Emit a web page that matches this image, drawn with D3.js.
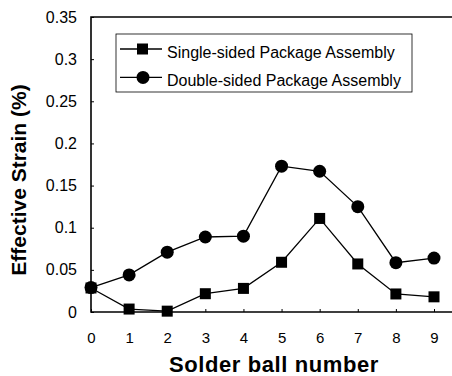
<!DOCTYPE html>
<html>
<head>
<meta charset="utf-8">
<script src="https://cdn.jsdelivr.net/npm/d3@7"></script>
<style>
  body { margin: 0; background: #fff; }
  text { font-family: "Liberation Sans", Arial, sans-serif; fill: #000; }
</style>
</head>
<body>
<svg id="chart" width="452" height="376"></svg>
<script>
const balls = [0, 1, 2, 3, 4, 5, 6, 7, 8, 9];
const singleSided = [0.0285, 0.0035, 0.001, 0.0217, 0.028, 0.059, 0.111, 0.057, 0.0214, 0.018];
const doubleSided = [0.029, 0.044, 0.071, 0.089, 0.09, 0.173, 0.167, 0.125, 0.0585, 0.064];
const yTicks = [0, 0.05, 0.1, 0.15, 0.2, 0.25, 0.3, 0.35];
const seriesNames = ['Single-sided Package Assembly', 'Double-sided Package Assembly'];

function drawChart() {
    const svg = d3.select('#chart');
    const left = 91, top = 17, bottom = 312, right = 453;

    const x = d3.scaleLinear().domain([0, 9]).range([left, 434]);
    const y = d3.scaleLinear().domain([0, 0.35]).range([bottom, top]);

    // Frame (right side runs off the picture)
    svg.append('path')
        .attr('d', `M${right},${top}H${left}V${bottom}H${right}`)
        .attr('fill', 'none')
        .attr('stroke', '#000')
        .attr('stroke-width', 1.6);

    // Y axis
    const yAxis = svg.append('g')
        .attr('transform', `translate(${left},0)`)
        .call(d3.axisLeft(y).tickValues(yTicks).tickSize(-3).tickPadding(14)
            .tickFormat(d => d3.format('~g')(d)));
    yAxis.select('.domain').remove();
    yAxis.selectAll('text').style('font-size', '16px');

    // X axis
    const xAxis = svg.append('g')
        .attr('transform', `translate(0,${bottom})`)
        .call(d3.axisBottom(x).tickValues(balls).tickSize(-3).tickPadding(20));
    xAxis.select('.domain').remove();
    xAxis.selectAll('text').style('font-size', '15px');

    // Lines
    const line = d3.line().x((d, i) => x(balls[i])).y(d => y(d));
    [singleSided, doubleSided].forEach(s => {
        svg.append('path')
            .attr('d', line(s))
            .attr('fill', 'none')
            .attr('stroke', '#000')
            .attr('stroke-width', 1.3);
    });

    // Markers
    svg.selectAll('.sq')
        .data(singleSided)
        .enter()
        .append('rect')
        .attr('x', (d, i) => x(balls[i]) - 5.5)
        .attr('y', d => y(d) - 5.5)
        .attr('width', 11)
        .attr('height', 11)
        .attr('fill', '#000');

    svg.selectAll('.ci')
        .data(doubleSided)
        .enter()
        .append('circle')
        .attr('cx', (d, i) => x(balls[i]))
        .attr('cy', d => y(d))
        .attr('r', 6.5)
        .attr('fill', '#000');

    // Legend
    const lg = svg.append('g');
    lg.append('rect')
        .attr('x', 116).attr('y', 34)
        .attr('width', 296).attr('height', 58)
        .attr('fill', '#fff')
        .attr('stroke', '#000')
        .attr('stroke-width', 0.8);
    seriesNames.forEach((name, i) => {
        const ly = 49 + i * 28.4;
        lg.append('line')
            .attr('x1', 120).attr('x2', 162)
            .attr('y1', ly).attr('y2', ly)
            .attr('stroke', '#000').attr('stroke-width', 1.3);
        if (i === 0) {
            lg.append('rect').attr('x', 137).attr('y', ly - 5.5)
                .attr('width', 11).attr('height', 11).attr('fill', '#000');
        } else {
            lg.append('circle').attr('cx', 143).attr('cy', ly).attr('r', 6.5).attr('fill', '#000');
        }
        lg.append('text')
            .attr('x', 167).attr('y', ly + 2.5 + 0.4)
            .attr('dy', '0.35em')
            .style('font-size', '16px')
            .text(name);
    });

    // Axis titles
    svg.append('text')
        .attr('x', 274).attr('y', 372)
        .attr('text-anchor', 'middle')
        .style('font-size', '22px')
        .style('font-weight', 'bold')
        .style('letter-spacing', '0.6px')
        .text('Solder ball number');

    svg.append('text')
        .attr('transform', 'translate(26,180) rotate(-90)')
        .attr('text-anchor', 'middle')
        .style('font-size', '21px')
        .style('font-weight', 'bold')
        .text('Effective Strain (%)');
}

drawChart();
</script>
</body>
</html>
